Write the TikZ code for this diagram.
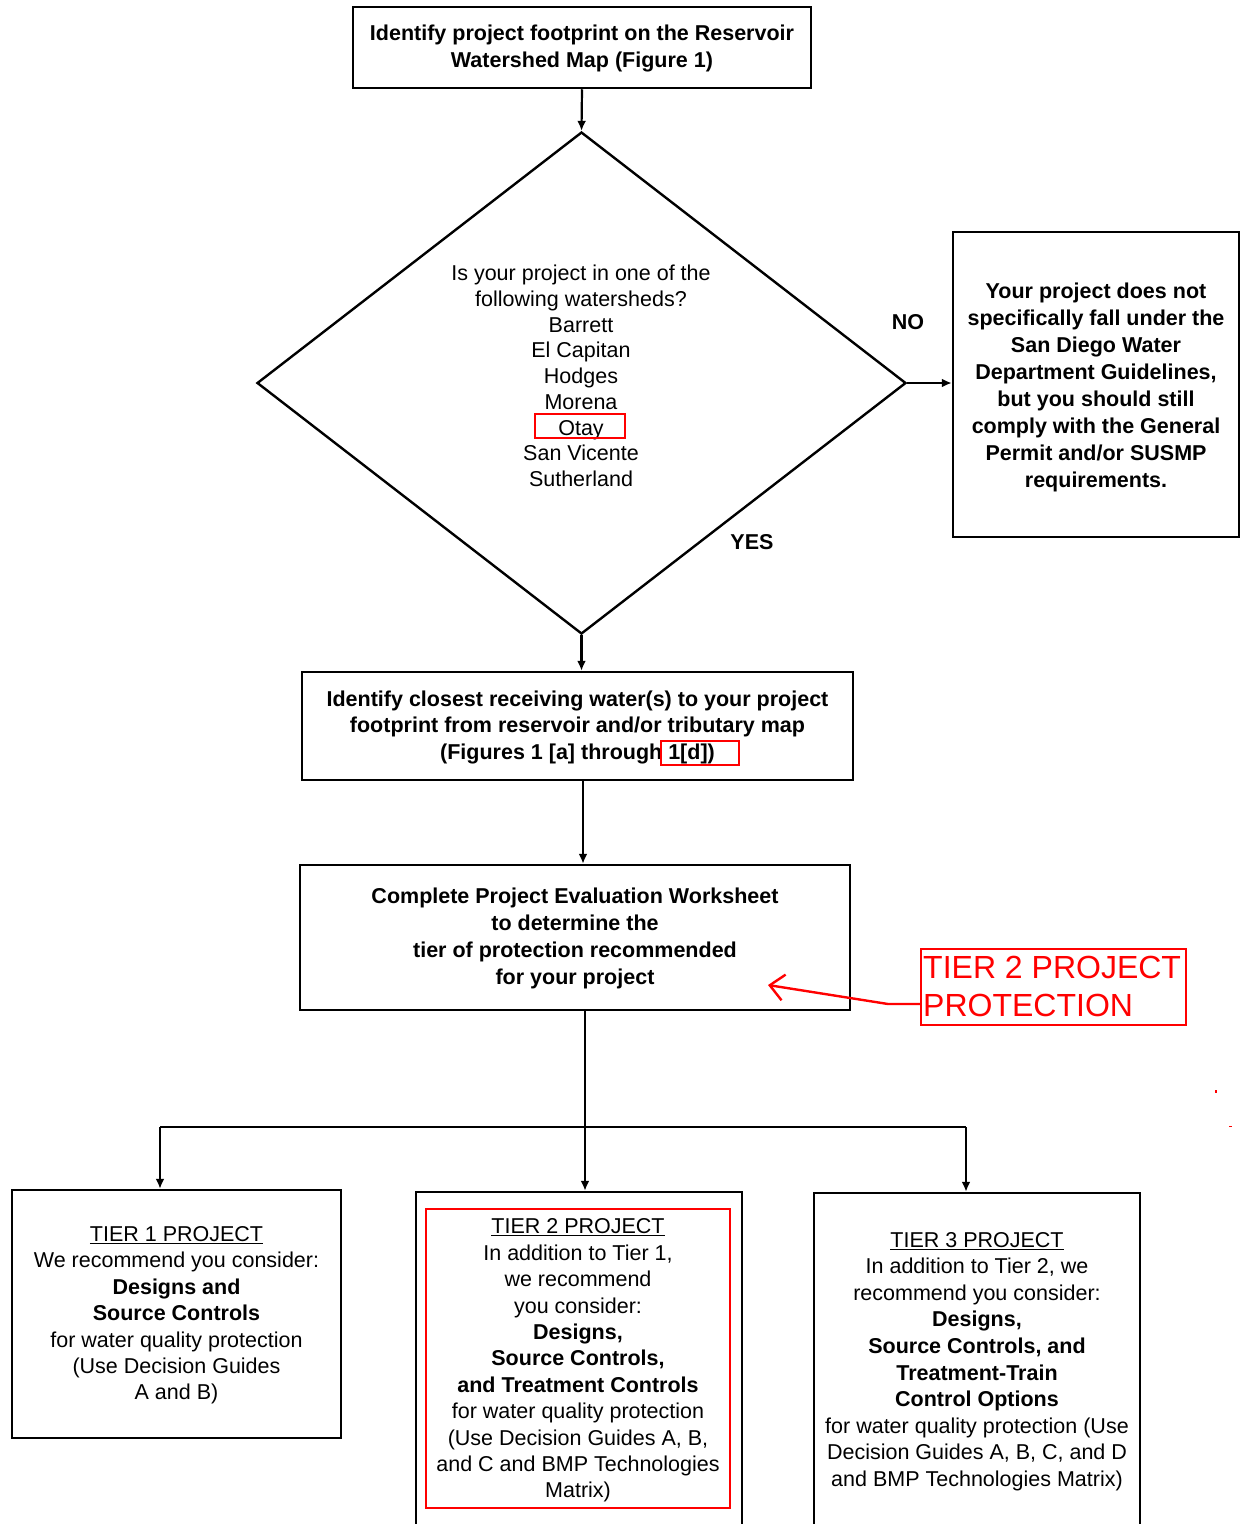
\documentclass[tikz,border=0pt]{standalone}
\usepackage{fontspec}
\setmainfont{Liberation Sans}
\usetikzlibrary{shapes.geometric,arrows.meta}
\begin{document}
\begin{tikzpicture}[x=1pt,y=-1pt,
  box/.style={draw, line width=2.5pt, rectangle, inner sep=0pt},
  redbox/.style={draw=red, line width=2pt, rectangle, inner sep=0pt},
  txt/.style={inner sep=0pt, align=center, font=\fontsize{21.5}{26.4}\selectfont},
  btxt/.style={inner sep=0pt, align=center, font=\fontsize{21.5}{27}\selectfont\bfseries},
  conn/.style={line width=2.2pt},
  arr/.style={line width=2.2pt, -{Latex[length=10pt,width=9pt]}},
]
\useasboundingbox (0,0) rectangle (1241,1524);
\clip (0,0) rectangle (1241,1524);

% top box
\node[box, minimum width=458, minimum height=81] (top) at (582,47.5) {};
\node[btxt] (toptext) at (582,48.5)
  {Identify project footprint on the Reservoir\\Watershed Map (Figure 1)};

% decision diamond
\node[draw, diamond, line width=2.4pt, minimum width=649, minimum height=502, inner sep=0pt] (q) at (581.5,383) {};
\node[txt, font=\fontsize{21.5}{25.75}\selectfont] (qtext) at (581,376)
  {Is your project in one of the\\following watersheds?\\Barrett\\El Capitan\\Hodges\\Morena\\Otay\\San Vicente\\Sutherland};
\node[redbox, minimum width=90, minimum height=24] (otaybox) at (580,426) {};

% NO branch
\node[box, minimum width=286, minimum height=305] (nobox) at (1096,384.5) {};
\node[btxt] (notext) at (1096,387.5)
  {Your project does not\\specifically fall under the\\San Diego Water\\Department Guidelines,\\but you should still\\comply with the General\\Permit and/or SUSMP\\requirements.};
\node[btxt] (nolbl) at (908,322) {NO};
\node[btxt] (yeslbl) at (752,542) {YES};

% middle box
\node[box, minimum width=551, minimum height=108] (mid) at (577.5,726) {};
\node[inner sep=0pt, align=center, font=\fontsize{21.5}{26.5}\selectfont\bfseries] (midtext) at (577.5,727)
  {Identify closest receiving water(s) to your project\\footprint from reservoir and/or tributary map\\(Figures 1 [a] through 1[d])};
\node[redbox, minimum width=78, minimum height=24] (dbox) at (700,753) {};

% worksheet box
\node[box, minimum width=550, minimum height=145] (work) at (575,937.5) {};
\node[btxt] (worktext) at (575,938.5)
  {Complete Project Evaluation Worksheet\\to determine the\\tier of protection recommended\\for your project};

% red callout
\node[draw=red, line width=2.4pt, minimum width=265, minimum height=76, inner sep=0pt] (call) at (1053.5,987) {};
\node[anchor=west, align=left, inner sep=0pt, text=red, font=\fontsize{32}{38}\selectfont] (calltext) at (923,986)
  {TIER 2 PROJECT\\PROTECTION};
\coordinate (rbend) at (888,1004);
\coordinate (rtip) at (768,985);
\draw[red, line width=2.4pt, -{Straight Barb[length=14pt,width=26pt]}] (call.west |- rbend) -- (rbend) -- (rtip);

% tier boxes
\node[box, minimum width=329, minimum height=248] (tier1) at (176.5,1314) {};
\node[txt] (tier1text) at (176.5,1315.5)
  {\underline{TIER 1 PROJECT}\\We recommend you consider:\\\textbf{Designs and}\\\textbf{Source Controls}\\for water quality protection\\(Use Decision Guides\\A and B)};

\node[box, minimum width=326, minimum height=338] (tier2) at (579,1361) {};
\node[redbox, line width=2.2pt, minimum width=304, minimum height=299] (tier2in) at (578,1358.5) {};
\node[txt] (tier2text) at (578,1360.5)
  {\underline{TIER 2 PROJECT}\\In addition to Tier 1,\\we recommend\\you consider:\\\textbf{Designs,}\\\textbf{Source Controls,}\\\textbf{and Treatment Controls}\\for water quality protection\\(Use Decision Guides A, B,\\and C and BMP Technologies\\Matrix)};

\node[box, minimum width=326, minimum height=337] (tier3) at (977,1361.5) {};
\node[txt, font=\fontsize{21.5}{26.6}\selectfont] (tier3text) at (977,1361.5)
  {\underline{TIER 3 PROJECT}\\In addition to Tier 2, we\\recommend you consider:\\\textbf{Designs,}\\\textbf{Source Controls, and}\\\textbf{Treatment-Train}\\\textbf{Control Options}\\for water quality protection (Use\\Decision Guides A, B, C, and D\\and BMP Technologies Matrix)};

% connectors
\draw[arr] (top.south) -- (q.north);
\draw[arr] (q.east) -- (nobox.west |- q.east);
\draw[arr] (q.south) -- (q.south |- mid.north);
\coordinate (spine) at (583,800);
\draw[arr] (mid.south -| spine) -- (work.north -| spine);

\coordinate (jc) at (585,1127);
\coordinate (jl) at (160,1127);
\coordinate (jr) at (966,1127);
\draw[conn] (work.south -| jc) -- (jc);
\draw[conn] (jl) -- (jr);
\draw[arr] (jc) -- (jc |- tier2.north);
\draw[arr] (jl) -- (jl |- tier1.north);
\draw[arr] (jr) -- (jr |- tier3.north);

% small red specks
\fill[red] (1214.5,1090) rectangle (1217,1093);
\fill[red] (1229,1125.5) rectangle (1231.5,1127);
\end{tikzpicture}
\end{document}
